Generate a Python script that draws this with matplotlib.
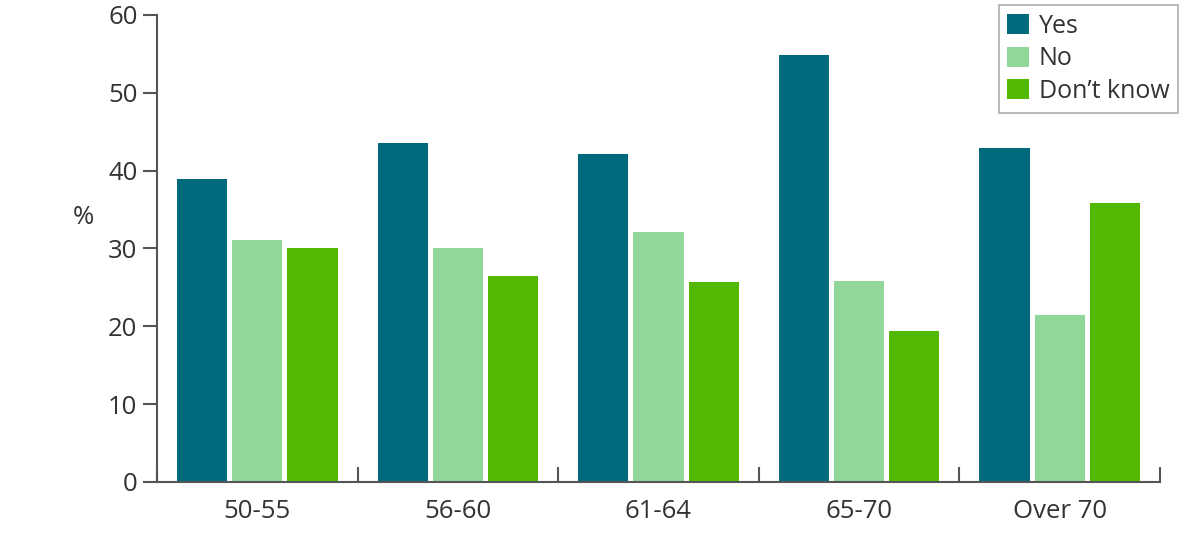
import numpy as np
import matplotlib.pyplot as plt
from matplotlib.patches import Patch

# Data
categories = ['50-55', '56-60', '61-64', '65-70', 'Over 70']
yes_vals = [38.9, 43.6, 42.2, 54.9, 42.9]
no_vals = [31.1, 30.1, 32.1, 25.8, 21.5]
dont_know_vals = [30.1, 26.5, 25.7, 19.4, 35.9]
series_names = ['Yes', 'No', 'Don\u2019t know']
colors = ['#006a7d', '#90d799', '#52b900']

plt.rcParams['font.family'] = ['Open Sans', 'DejaVu Sans']
text_color = '#333333'
axis_color = '#555555'

fig = plt.figure(figsize=(12, 5.35), dpi=100)
ax = fig.add_axes([0.1308, 0.0991, 0.8359, 0.8729])

x = np.arange(len(categories))
width = 0.25
step = 0.275
for i, vals in enumerate([yes_vals, no_vals, dont_know_vals]):
    ax.bar(x + (i - 1) * step, vals, width, color=colors[i], zorder=2)

ax.set_xlim(-0.5, len(categories) - 0.5)
ax.set_ylim(0, 60)
ax.set_yticks(np.arange(0, 61, 10))

# category labels centred, boundary ticks pointing up
ax.set_xticks(x)
ax.set_xticklabels(categories)
ax.tick_params(axis='x', which='major', length=0, pad=12, labelsize=18.5, labelcolor=text_color)
ax.set_xticks(np.arange(-0.5, len(categories)), minor=True)
ax.tick_params(axis='x', which='minor', direction='in', length=11, width=1.5, color=axis_color)
ax.tick_params(axis='y', direction='out', length=10, width=1.5, color=axis_color,
               labelsize=18.5, labelcolor=text_color, pad=4)

for s in ['top', 'right']:
    ax.spines[s].set_visible(False)
for s in ['left', 'bottom']:
    ax.spines[s].set_color(axis_color)
    ax.spines[s].set_linewidth(1.5)

fig.text(83 / 1200, 1 - 218 / 535, '%', fontsize=18.5, color=text_color, ha='center', va='center')

handles = [Patch(facecolor=c, edgecolor='none') for c in colors]
leg = ax.legend(handles, series_names, loc='upper right', bbox_to_anchor=(1.018, 1.021),
                fontsize=18, frameon=True, fancybox=False, handlelength=0.85, handleheight=0.85,
                handletextpad=0.4, labelspacing=0.3, borderpad=0.35, borderaxespad=0,
                labelcolor=text_color)
leg.get_frame().set_edgecolor('#999999')
leg.get_frame().set_linewidth(1.2)

plt.savefig('out.png', dpi=100)
